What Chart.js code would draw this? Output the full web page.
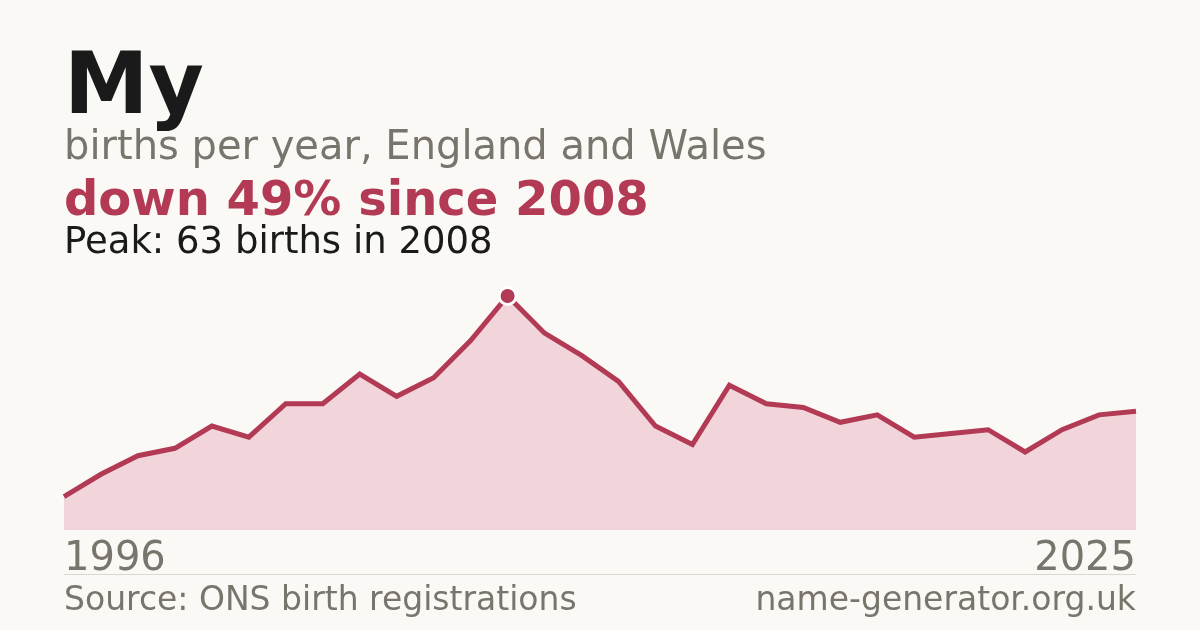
<!DOCTYPE html>
<html>
<head>
<meta charset="utf-8">
<script src="https://cdn.jsdelivr.net/npm/chart.js@4"></script>
<style>
  html, body { margin: 0; padding: 0; }
  body { width: 1200px; height: 630px; background: #faf9f5; position: relative; overflow: hidden; font-family: "DejaVu Sans", sans-serif; }
  .t { position: absolute; left: 64px; line-height: 1; white-space: nowrap; }
  #title { top: 41px; font-size: 85px; font-weight: bold; color: #1a1a1a; }
  #sub { top: 125px; font-size: 40px; color: #7a756c; }
  #delta { top: 174px; font-size: 48px; font-weight: bold; color: #b23a55; }
  #peak { top: 222px; font-size: 37px; color: #1a1a1a; }
  #y0, #y1 { top: 536px; font-size: 40px; color: #7a756c; }
  #y1 { left: auto; right: 64px; }
  #rule { position: absolute; left: 64px; right: 64px; top: 574px; height: 1px; background: #dcd8d1; }
  #src, #site { top: 582px; font-size: 33px; color: #7a756c; }
  #site { left: auto; right: 64px; }
  #wrap { position: absolute; left: 0; top: 0; width: 1200px; height: 630px; }
</style>
</head>
<body>
<div id="wrap"><canvas id="births" width="1200" height="630"></canvas></div>
<div class="t" id="title">My</div>
<div class="t" id="sub">births per year, England and Wales</div>
<div class="t" id="delta"></div>
<div class="t" id="peak"></div>
<div class="t" id="y0"></div>
<div class="t" id="y1"></div>
<div id="rule"></div>
<div class="t" id="src">Source: ONS birth registrations</div>
<div class="t" id="site">name-generator.org.uk</div>
<script>
const years = [1996, 1997, 1998, 1999, 2000, 2001, 2002, 2003, 2004, 2005,
               2006, 2007, 2008, 2009, 2010, 2011, 2012, 2013, 2014, 2015,
               2016, 2017, 2018, 2019, 2020, 2021, 2022, 2023, 2024, 2025];
const births = [9, 15, 20, 22, 28, 25, 34, 34, 42, 36,
                41, 51, 63, 53, 47, 40, 28, 23, 39, 34,
                33, 29, 31, 25, 26, 27, 21, 27, 31, 32];
const yMax = 70;

const crimson = '#b23a55';
const peakIdx = births.indexOf(Math.max(...births));
const last = births[births.length - 1];
const drop = Math.round((1 - last / births[peakIdx]) * 100);

document.getElementById('delta').textContent = 'down ' + drop + '% since ' + years[peakIdx];
document.getElementById('peak').textContent = 'Peak: ' + births[peakIdx] + ' births in ' + years[peakIdx];
document.getElementById('y0').textContent = years[0];
document.getElementById('y1').textContent = years[years.length - 1];

new Chart(document.getElementById('births'), {
    type: 'line',
    data: {
        labels: years,
        datasets: [{
            data: births,
            borderColor: crimson,
            borderWidth: 5,
            backgroundColor: '#f1d5db',
            fill: 'origin',
            tension: 0,
            pointRadius: births.map((v, i) => i === peakIdx ? 8.5 : 0),
            pointBackgroundColor: crimson,
            pointBorderColor: '#ffffff',
            pointBorderWidth: 3,
            pointHoverRadius: 0
        }]
    },
    options: {
        responsive: false,
        animation: false,
        devicePixelRatio: 1,
        layout: { padding: { left: 64, right: 64, top: 270, bottom: 100 } },
        scales: {
            x: { display: false },
            y: { display: false, min: 0, max: yMax }
        },
        plugins: {
            legend: { display: false },
            tooltip: { enabled: false }
        }
    }
});
</script>
</body>
</html>
